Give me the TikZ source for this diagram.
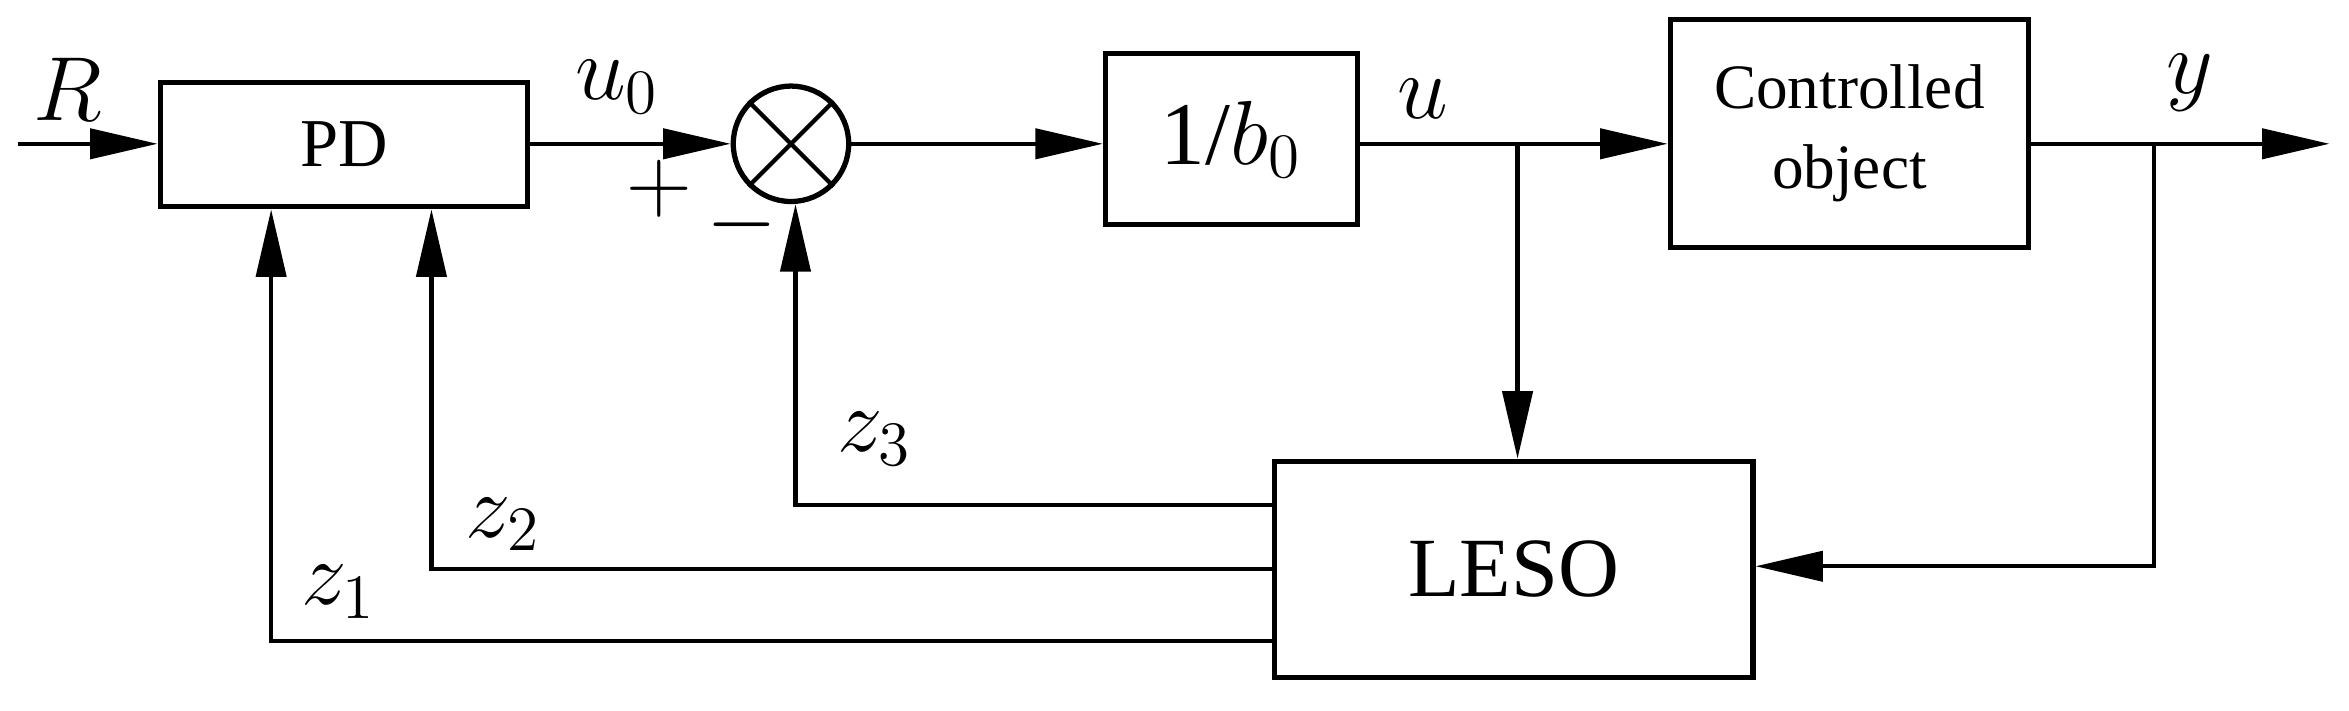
\documentclass[tikz,border=0pt]{standalone}
\usepackage{fontspec}
\setmainfont{Liberation Serif}
\newfontfamily\tms{Liberation Serif}
\usetikzlibrary{arrows.meta}
\begin{document}
\begin{tikzpicture}[x=0.01cm, y=-0.01cm, block/.style={draw, line width=1pt, rectangle, align=center, inner sep=0pt}, sig/.style={line width=0.8pt, -{Triangle[length=0.45cm, width=0.2cm]}}, lab/.style={font=\fontsize{17}{17}\selectfont}]
	\useasboundingbox (0,0) rectangle (1568,474);
	\node[block, minimum width=2.45cm, minimum height=0.83cm, font=\tms\fontsize{13}{13}\selectfont] (PD) at (229.5, 96.5) {PD};
	\node[draw, line width=1pt, circle, minimum size=0.77cm, inner sep=0pt] (S) at (528, 96) {};
	\draw[line width=0.8pt] (S.north west) -- (S.south east) (S.north east) -- (S.south west);
	\node[block, minimum width=1.68cm, minimum height=1.14cm, font=\tms\fontsize{17}{17}\selectfont] (B) at (822, 93) {1/$b_0$};
	\node[block, minimum width=2.39cm, minimum height=1.52cm, font=\tms\fontsize{12}{15}\selectfont] (G) at (1234.5, 89) {Controlled\\object};
	\node[block, minimum width=3.19cm, minimum height=1.44cm, font=\tms\fontsize{16}{16}\selectfont] (L) at (1010.5, 380) {LESO};
	\coordinate (in) at (12, 96);
	\coordinate (out) at (1555, 96);
	\coordinate (bu) at (1013, 96);
	\coordinate (by) at (1438, 96);
	\draw[sig] (in) -- (PD.west |- in);
	\draw[sig] (PD.east |- in) -- (S.west);
	\draw[sig] (S.east) -- (B.west |- in);
	\draw[sig] (B.east |- in) -- (G.west |- in);
	\draw[sig] (G.east |- in) -- (out);
	\draw[sig] (bu) -- (bu |- L.north);
	\draw[sig] (by) |- (L.east |- 0,378);
	\draw[sig] (L.west |- 0,337) -| (S.south -| 531,0);
	\draw[sig] (L.west |- 0,380) -| (PD.south -| 288,0);
	\draw[sig] (L.west |- 0,428) -| (PD.south -| 181,0);
	\node[lab] (lR) at (45, 60) {$R$};
	\node[lab] (lu0) at (412, 58) {$u_0$};
	\node[lab] (lp) at (440, 126) {$+$};
	\node[lab] (lm) at (495, 150) {$-$};
	\node[lab] (lu) at (950, 66) {$u$};
	\node[lab] (ly) at (1462, 55) {$y$};
	\node[lab] (lz3) at (584, 293) {$z_3$};
	\node[lab] (lz2) at (336, 350) {$z_2$};
	\node[lab] (lz1) at (226, 395) {$z_1$};
\end{tikzpicture}
\end{document}
